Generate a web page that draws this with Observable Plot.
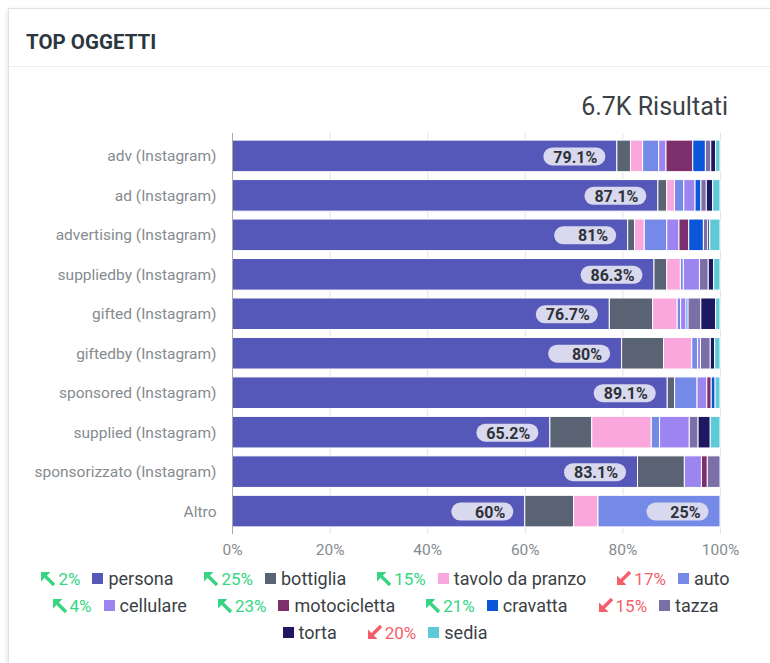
<!DOCTYPE html>
<html><head><meta charset="utf-8">
<script src="https://cdn.jsdelivr.net/npm/d3@7"></script>
<script src="https://cdn.jsdelivr.net/npm/@observablehq/plot@0.6"></script>
<style>
body{margin:0;background:#fff;font-family:Roboto,"Noto Sans",sans-serif;width:770px;height:663px;overflow:hidden;position:relative}
#card{position:absolute;left:8px;top:8px;width:820px;height:720px;border:1px solid #e1e1e1;box-shadow:-1px 1px 4px rgba(0,0,0,0.10);background:#fff}
#title{position:absolute;left:26px;top:30px;font-size:20.5px;font-weight:bold;color:#2b3640;line-height:24px}
#divider{position:absolute;left:9px;top:66px;width:770px;height:1px;background:#ececec}
#results{position:absolute;right:42px;top:92px;font-size:25px;color:#3c4145;line-height:30px}
#chart{position:absolute;left:0;top:120px}
#legend{position:absolute;left:0;top:565px;width:770px}
.row{display:flex;justify-content:center;align-items:center;height:27px}
.item{display:flex;align-items:center;margin:0 15px}
.arrow{display:block;margin-right:3px}
.pct{font-size:17px;margin-right:12px}
.sw{display:inline-block;width:11px;height:11px;margin-right:5px}
.name{font-size:18px;color:#3b3f45}
</style></head>
<body>
<div id="card"></div>
<div id="title">TOP OGGETTI</div>
<div id="divider"></div>
<div id="results">6.7K Risultati</div>
<div id="chart"></div>
<div id="legend"></div>
<script>
const categories = ["adv (Instagram)","ad (Instagram)","advertising (Instagram)","suppliedby (Instagram)","gifted (Instagram)","giftedby (Instagram)","sponsored (Instagram)","supplied (Instagram)","sponsorizzato (Instagram)","Altro"];
const seriesNames = ["persona","bottiglia","tavolo da pranzo","auto","cellulare","motocicletta","cravatta","tazza","torta","sedia"];
const seriesColors = ["#5557b9","#5a6373","#f9a7dc","#7589e6","#9d85f1","#7d2e6c","#0b55d8","#7a6fa6","#1e1862","#5ecad6"];

// values per category, in seriesNames order (percent)
const persona      = [79.1, 87.1, 81, 86.3, 76.7, 80, 89.1, 65.2, 83.1, 60];
const bottiglia    = [2.8, 1.8, 1.4, 2.6, 8.8, 8.6, 1.5, 8.6, 9.6, 10];
const tavolo       = [2.5, 1.6, 2.0, 2.8, 5.0, 5.8, 0, 12.2, 0, 5];
const auto         = [3.3, 1.9, 4.6, 0.6, 0.7, 1.2, 4.6, 1.7, 0, 25];
const cellulare    = [1.5, 2.3, 2.5, 3.3, 1.1, 0.6, 2.0, 6.1, 3.5, 0];
const motocicletta = [5.5, 0, 2.0, 0, 0, 0, 0.9, 0, 1.2, 0];
const cravatta     = [2.6, 1.2, 3.0, 0, 0.4, 0, 0.8, 0, 0, 0];
const tazza        = [1.1, 1.1, 0.9, 1.8, 2.6, 2.0, 0, 1.8, 2.6, 0];
const torta        = [1.0, 1.3, 0.4, 1.1, 3.0, 0.9, 0, 2.5, 0, 0];
const sedia        = [0.9, 1.5, 2.1, 1.3, 0.9, 1.1, 1.0, 2.0, 0, 0];

const xTicks = [0, 0.2, 0.4, 0.6, 0.8, 1];

// legend trends
const trendDir = ["up","up","up","down","up","up","up","down",null,"down"];
const trendPct = [2, 25, 15, 17, 4, 23, 21, 15, null, 20];

const seriesValues = [persona, bottiglia, tavolo, auto, cellulare, motocicletta, cravatta, tazza, torta, sedia];
const data = [];
categories.forEach((cat, i) => {
  seriesNames.forEach((s, j) => {
    const v = seriesValues[j][i];
    if (v > 0) data.push({cat, series: s, value: v});
  });
});

const stackOpts = {x: "value", y: "cat", z: "series", order: seriesNames, offset: "normalize"};
const onlyBig = (opts) => ({...opts, transform: (d, facets) => {
  const r = opts.transform(d, facets);
  return {data: r.data, facets: r.facets.map(f => Array.from(f).filter(i => r.data[i].value >= 20))};
}});

const pill = {draw(ctx) {
  const w = 62, h = 18, r = 9;
  ctx.moveTo(-w/2 + r, -h/2);
  ctx.lineTo(w/2 - r, -h/2);
  ctx.arc(w/2 - r, 0, r, -Math.PI/2, Math.PI/2);
  ctx.lineTo(-w/2 + r, h/2);
  ctx.arc(-w/2 + r, 0, r, Math.PI/2, 3*Math.PI/2);
  ctx.closePath();
}};

const chart = Plot.plot({
  width: 770, height: 445,
  marginLeft: 232, marginRight: 50, marginTop: 13, marginBottom: 31,
  style: {fontFamily: "Roboto, sans-serif", fontSize: "15.5px", color: "#868b90", background: "transparent", overflow: "visible"},
  x: {domain: [0, 1], ticks: xTicks, tickFormat: d3.format(".0%"), tickSize: 0, tickPadding: 9, label: null},
  y: {domain: categories, paddingInner: 0.2, paddingOuter: 0.18, round: false, tickSize: 0, tickPadding: 16, label: null},
  color: {domain: seriesNames, range: seriesColors},
  marks: [
    Plot.ruleX(xTicks, {stroke: "#e3e3e3"}),
    Plot.barX(data, Plot.stackX({...stackOpts, fill: "series", stroke: "white", strokeWidth: 1})),
    Plot.ruleX([0], {stroke: "#a8a8a8"}),
    Plot.dot(data, onlyBig(Plot.stackX2({...stackOpts, symbol: pill, fill: "#d8d8ef", stroke: "none", dx: -43}))),
    Plot.text(data, onlyBig(Plot.stackX2({...stackOpts, text: d => `${d.value}%`, dx: -20, dy: 1, textAnchor: "end", fontSize: 16, fontWeight: "bold", fill: "#2e3237"})))
  ]
});
document.getElementById("chart").appendChild(chart);

// legend
const legend = document.getElementById("legend");
const green = "#37d583", red = "#f45f6b";
for (let r = 0; r < seriesNames.length; r += 4) {
  const row = document.createElement("div");
  row.className = "row";
  for (let i = r; i < Math.min(r + 4, seriesNames.length); i++) {
    const item = document.createElement("span");
    item.className = "item";
    let html = "";
    if (trendDir[i]) {
      const c = trendDir[i] === "up" ? green : red;
      const shape = trendDir[i] === "up"
        ? `<path d="M1 1 H10.5 L1 10.5 Z" fill="${c}"/><path d="M4 4 L14 14" stroke="${c}" stroke-width="3.4"/>`
        : `<path d="M1 14 H10.5 L1 4.5 Z" fill="${c}"/><path d="M4 11 L14 1" stroke="${c}" stroke-width="3.4"/>`;
      html += `<svg class="arrow" width="15" height="15" viewBox="0 0 15 15">${shape}</svg>`;
      html += `<span class="pct" style="color:${c}">${trendPct[i]}%</span>`;
    }
    html += `<span class="sw" style="background:${seriesColors[i]}"></span><span class="name">${seriesNames[i]}</span>`;
    item.innerHTML = html;
    row.appendChild(item);
  }
  legend.appendChild(row);
}
</script>
</body></html>
